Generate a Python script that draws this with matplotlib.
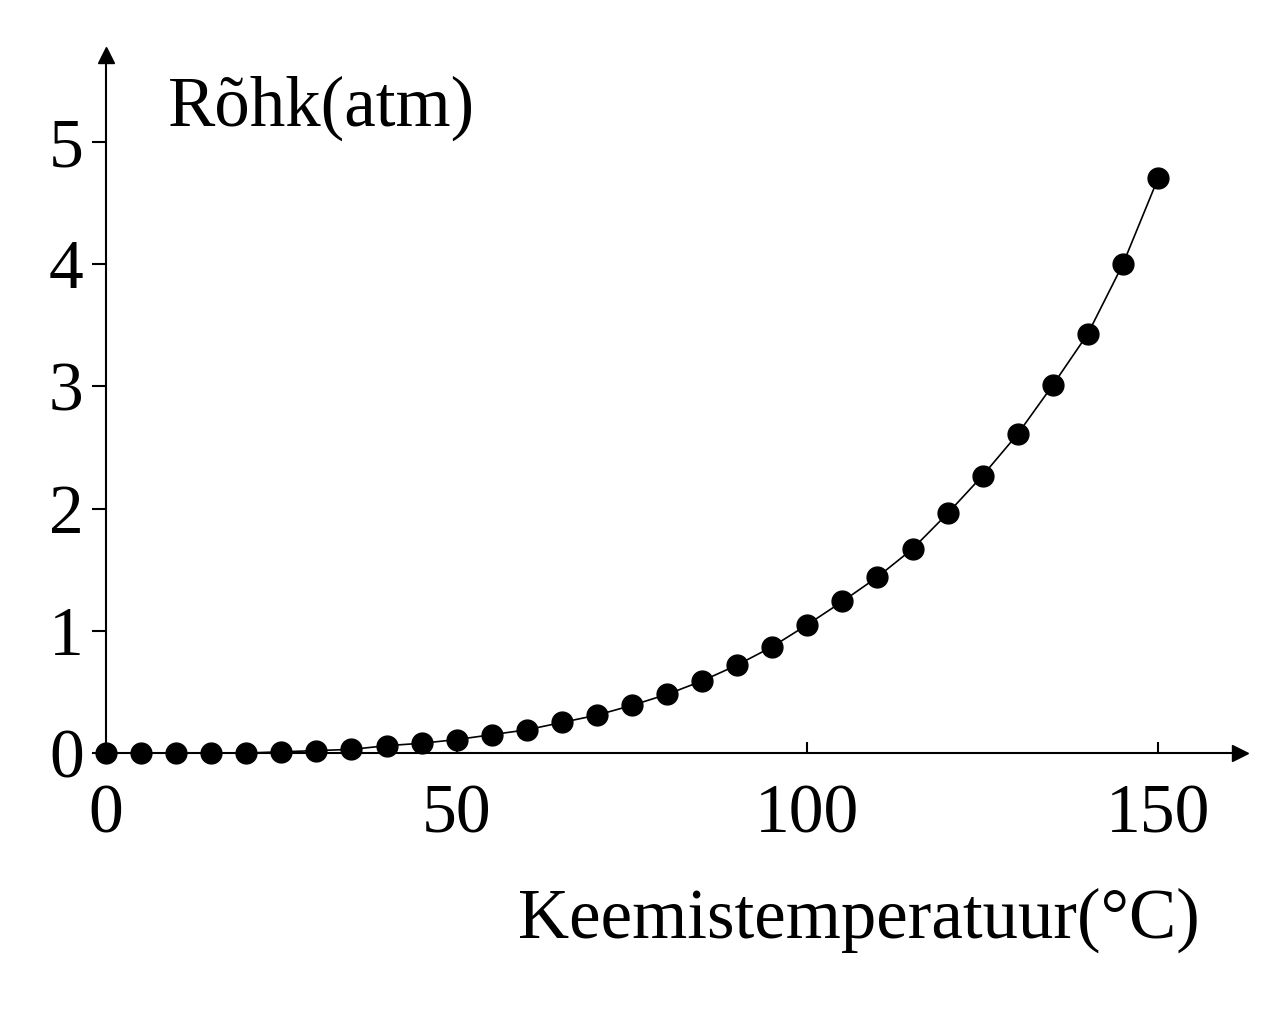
import matplotlib
matplotlib.use("Agg")
import matplotlib.pyplot as plt

temps = list(range(0, 151, 5))
pressure = [0, 0, 0, 0, 0, 0.01, 0.02, 0.03, 0.06, 0.08, 0.11, 0.15, 0.19, 0.25, 0.31,
            0.39, 0.48, 0.59, 0.72, 0.87, 1.05, 1.24, 1.44, 1.67, 1.96, 2.27, 2.61,
            3.01, 3.43, 4.00, 4.70]
xticks = [0, 50, 100, 150]
yticks = [0, 1, 2, 3, 4, 5]

plt.rcParams['font.family'] = ['Liberation Serif', 'DejaVu Serif']
fig = plt.figure(figsize=(12.8, 10.19), dpi=100)
ax = fig.add_axes([0.0828, 0.261, 0.886, 0.685])
ax.plot(temps, pressure, color='black', lw=1.2)
ax.plot(temps, pressure, 'o', color='black', ms=15, clip_on=False, zorder=5)
ax.set_xlim(0, 161.7)
ax.set_ylim(0, 5.71)
for s in ['top', 'right']:
    ax.spines[s].set_visible(False)
for s in ['left', 'bottom']:
    ax.spines[s].set_linewidth(1.5)
ax.plot(1, 0, '>k', ms=12, transform=ax.transAxes, clip_on=False)
ax.plot(0, 1, '^k', ms=12, transform=ax.transAxes, clip_on=False)
ax.set_xticks(xticks)
ax.set_yticks(yticks)
ax.tick_params(labelsize=50)
ax.tick_params(axis='x', direction='in', length=8, width=1.5, pad=22)
ax.tick_params(axis='y', direction='out', length=10, width=1.5, pad=6)
ax.text(0.055, 0.97, 'Rõhk(atm)', transform=ax.transAxes, fontsize=51, va='top')
fig.text(0.937, 0.08, 'Keemistemperatuur(°C)', fontsize=51, ha='right')
fig.savefig('out.png')
